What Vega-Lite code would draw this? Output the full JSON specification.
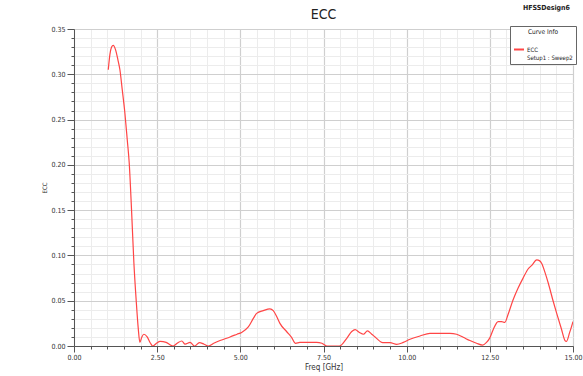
{
  "$schema": "https://vega.github.io/schema/vega-lite/v6.json",
  "width": 499,
  "height": 317,
  "autosize": {"type": "none"},
  "padding": {"left": 74, "top": 29, "right": 10, "bottom": 30},
  "background": "white",
  "config": {
    "font": "DejaVu Sans Condensed, Liberation Sans, sans-serif",
    "view": {"stroke": "#888888", "strokeWidth": 1}
  },
  "datasets": {
    "ecc": [
      {"freq": 1.03, "ecc": 0.305}, {"freq": 1.08, "ecc": 0.322}, {"freq": 1.13, "ecc": 0.330},
      {"freq": 1.18, "ecc": 0.332}, {"freq": 1.25, "ecc": 0.327}, {"freq": 1.32, "ecc": 0.316},
      {"freq": 1.38, "ecc": 0.305}, {"freq": 1.45, "ecc": 0.283}, {"freq": 1.53, "ecc": 0.257},
      {"freq": 1.60, "ecc": 0.228}, {"freq": 1.66, "ecc": 0.202}, {"freq": 1.73, "ecc": 0.150},
      {"freq": 1.80, "ecc": 0.092}, {"freq": 1.87, "ecc": 0.050}, {"freq": 1.93, "ecc": 0.020},
      {"freq": 1.98, "ecc": 0.004}, {"freq": 2.04, "ecc": 0.010}, {"freq": 2.10, "ecc": 0.013},
      {"freq": 2.20, "ecc": 0.010}, {"freq": 2.30, "ecc": 0.003}, {"freq": 2.37, "ecc": 0.000},
      {"freq": 2.48, "ecc": 0.003}, {"freq": 2.59, "ecc": 0.005}, {"freq": 2.77, "ecc": 0.004},
      {"freq": 2.90, "ecc": 0.001}, {"freq": 2.98, "ecc": 0.000}, {"freq": 3.10, "ecc": 0.003},
      {"freq": 3.24, "ecc": 0.0055}, {"freq": 3.34, "ecc": 0.002}, {"freq": 3.49, "ecc": 0.004},
      {"freq": 3.62, "ecc": 0.000}, {"freq": 3.77, "ecc": 0.0037}, {"freq": 3.91, "ecc": 0.002},
      {"freq": 4.04, "ecc": 0.000}, {"freq": 4.20, "ecc": 0.003}, {"freq": 4.39, "ecc": 0.006},
      {"freq": 4.69, "ecc": 0.010}, {"freq": 4.90, "ecc": 0.013}, {"freq": 5.04, "ecc": 0.015},
      {"freq": 5.24, "ecc": 0.021}, {"freq": 5.40, "ecc": 0.031}, {"freq": 5.49, "ecc": 0.036},
      {"freq": 5.69, "ecc": 0.039}, {"freq": 5.89, "ecc": 0.041}, {"freq": 5.99, "ecc": 0.039},
      {"freq": 6.10, "ecc": 0.032}, {"freq": 6.19, "ecc": 0.025}, {"freq": 6.39, "ecc": 0.016},
      {"freq": 6.54, "ecc": 0.0096}, {"freq": 6.66, "ecc": 0.003}, {"freq": 6.79, "ecc": 0.004},
      {"freq": 7.29, "ecc": 0.004}, {"freq": 7.45, "ecc": 0.003}, {"freq": 7.60, "ecc": 0.000},
      {"freq": 7.98, "ecc": 0.000}, {"freq": 8.20, "ecc": 0.0085}, {"freq": 8.35, "ecc": 0.016},
      {"freq": 8.45, "ecc": 0.018}, {"freq": 8.58, "ecc": 0.015}, {"freq": 8.70, "ecc": 0.013},
      {"freq": 8.82, "ecc": 0.0166}, {"freq": 8.95, "ecc": 0.013}, {"freq": 9.05, "ecc": 0.010},
      {"freq": 9.28, "ecc": 0.0037}, {"freq": 9.50, "ecc": 0.0037}, {"freq": 9.70, "ecc": 0.0018},
      {"freq": 9.90, "ecc": 0.004}, {"freq": 10.10, "ecc": 0.0074}, {"freq": 10.40, "ecc": 0.011},
      {"freq": 10.70, "ecc": 0.014}, {"freq": 11.30, "ecc": 0.014}, {"freq": 11.50, "ecc": 0.013},
      {"freq": 11.70, "ecc": 0.0096}, {"freq": 11.90, "ecc": 0.006}, {"freq": 12.10, "ecc": 0.003},
      {"freq": 12.28, "ecc": 0.001}, {"freq": 12.40, "ecc": 0.004}, {"freq": 12.50, "ecc": 0.009},
      {"freq": 12.60, "ecc": 0.018}, {"freq": 12.75, "ecc": 0.027}, {"freq": 12.85, "ecc": 0.027},
      {"freq": 12.95, "ecc": 0.026}, {"freq": 13.05, "ecc": 0.035}, {"freq": 13.20, "ecc": 0.051},
      {"freq": 13.35, "ecc": 0.064}, {"freq": 13.50, "ecc": 0.075}, {"freq": 13.65, "ecc": 0.085},
      {"freq": 13.76, "ecc": 0.089}, {"freq": 13.91, "ecc": 0.095}, {"freq": 14.00, "ecc": 0.094},
      {"freq": 14.06, "ecc": 0.091}, {"freq": 14.16, "ecc": 0.081}, {"freq": 14.26, "ecc": 0.069},
      {"freq": 14.40, "ecc": 0.050}, {"freq": 14.51, "ecc": 0.036}, {"freq": 14.65, "ecc": 0.019},
      {"freq": 14.76, "ecc": 0.006}, {"freq": 14.80, "ecc": 0.005}, {"freq": 14.90, "ecc": 0.015},
      {"freq": 15.00, "ecc": 0.027}
    ],
    "heading": [{"text": "ECC", "freq": 7.5, "ecc": 0.35}],
    "tag": [{"text": "HFSSDesign6", "freq": 15, "ecc": 0.35}]
  },
  "encoding": {
    "x": {
      "field": "freq",
      "type": "quantitative",
      "scale": {"domain": [0, 15], "nice": false, "zero": false},
      "axis": {
        "title": "Freq [GHz]",
        "titleFontSize": 8,
        "titleFontWeight": "normal",
        "titleColor": "#333",
        "titlePadding": 3,
        "values": [0,0.5,1,1.5,2,2.5,3,3.5,4,4.5,5,5.5,6,6.5,7,7.5,8,8.5,9,9.5,10,10.5,11,11.5,12,12.5,13,13.5,14,14.5,15],
        "labelExpr": "datum.value % 2.5 === 0 ? format(datum.value, '.2f') : ''",
        "labelFontSize": 7,
        "labelColor": "#333",
        "labelFlush": false,
        "labelOverlap": false,
        "labelPadding": 1,
        "domainColor": "#555",
        "tickColor": "#555",
        "tickSize": {"condition": {"test": "datum.value % 2.5 === 0", "value": 6}, "value": 3},
        "grid": true,
        "gridColor": {"condition": {"test": "datum.value % 2.5 === 0", "value": "#cfcfcf"}, "value": "#ececec"},
        "gridWidth": {"condition": {"test": "datum.value % 2.5 === 0", "value": 1.2}, "value": 1}
      }
    },
    "y": {
      "field": "ecc",
      "type": "quantitative",
      "scale": {"domain": [0, 0.35], "nice": false},
      "axis": {
        "title": "ECC",
        "titleFontSize": 6,
        "titleFontWeight": "normal",
        "titleColor": "#333",
        "titlePadding": 3,
        "values": [0,0.01,0.02,0.03,0.04,0.05,0.06,0.07,0.08,0.09,0.1,0.11,0.12,0.13,0.14,0.15,0.16,0.17,0.18,0.19,0.2,0.21,0.22,0.23,0.24,0.25,0.26,0.27,0.28,0.29,0.3,0.31,0.32,0.33,0.34,0.35],
        "labelExpr": "round(datum.value * 100) % 5 === 0 ? format(datum.value, '.2f') : ''",
        "labelFontSize": 7,
        "labelColor": "#333",
        "labelFlush": false,
        "labelOverlap": false,
        "labelPadding": 2,
        "domainColor": "#555",
        "tickColor": "#555",
        "tickSize": {"condition": {"test": "round(datum.value * 100) % 5 === 0", "value": 7}, "value": 3},
        "grid": true,
        "gridColor": {"condition": {"test": "round(datum.value * 100) % 5 === 0", "value": "#cfcfcf"}, "value": "#ececec"},
        "gridWidth": {"condition": {"test": "round(datum.value * 100) % 5 === 0", "value": 1.2}, "value": 1}
      }
    }
  },
  "layer": [
    {
      "data": {"name": "ecc"},
      "mark": {"type": "line", "interpolate": "monotone", "strokeWidth": 1.2, "clip": true},
      "encoding": {
        "color": {
          "datum": "ECC",
          "type": "nominal",
          "scale": {"range": ["#ff4545"]},
          "legend": {
            "orient": "none",
            "legendX": 436,
            "legendY": -3,
            "title": "Curve Info",
            "titleFontSize": 6.5,
            "titleFontWeight": "normal",
            "titleColor": "#222",
            "titleAnchor": "middle",
            "titlePadding": 8,
            "labelFontSize": 6,
            "labelColor": "#222",
            "labelOffset": 2,
            "labelExpr": "['ECC', 'Setup1 : Sweep2']",
            "symbolType": "stroke",
            "symbolStrokeWidth": 2,
            "symbolSize": 100,
            "strokeColor": "#666",
            "fillColor": "white",
            "padding": 3,
            "offset": 0
          }
        }
      }
    },
    {
      "data": {"name": "heading"},
      "mark": {"type": "text", "align": "center", "baseline": "alphabetic", "dy": -10, "fontSize": 14, "color": "#222"},
      "encoding": {
        "text": {"field": "text"}
      }
    },
    {
      "data": {"name": "tag"},
      "mark": {"type": "text", "align": "right", "baseline": "alphabetic", "dy": -19, "dx": -3, "fontSize": 7, "fontWeight": "bold", "color": "#222"},
      "encoding": {
        "text": {"field": "text"}
      }
    }
  ]
}
